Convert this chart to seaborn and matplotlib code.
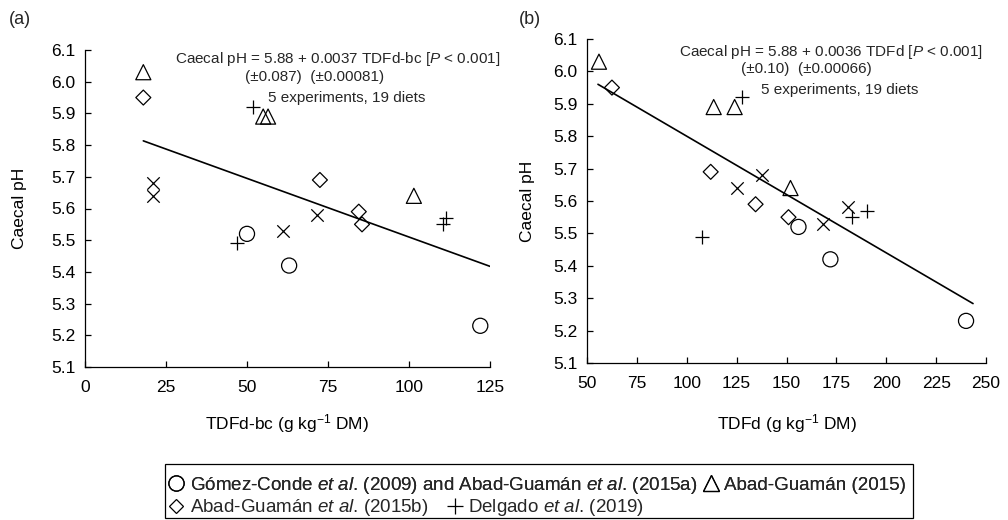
import numpy as np
import pandas as pd
import matplotlib
matplotlib.use("Agg")
import matplotlib.pyplot as plt
from matplotlib.lines import Line2D
from matplotlib.patches import Rectangle
import seaborn as sns

# ---------------- data ----------------
groups = ["circle", "triangle", "diamond", "plus", "cross"]

# panel (a): TDFd-bc
a_circle_x = [50, 63, 122]
a_circle_y = [5.52, 5.42, 5.23]
a_triangle_x = [18, 55, 56.5, 101.5]
a_triangle_y = [6.03, 5.89, 5.89, 5.64]
a_diamond_x = [18, 72.5, 84.5, 85.5]
a_diamond_y = [5.95, 5.69, 5.59, 5.55]
a_plus_x = [52, 47, 110.5, 111.5]
a_plus_y = [5.92, 5.49, 5.55, 5.57]
a_cross_x = [21, 21, 61, 71.5]
a_cross_y = [5.68, 5.64, 5.53, 5.58]
a_line_intercept = 5.88
a_line_slope = -0.0037
a_line_x = [18, 125]

# panel (b): TDFd
b_circle_x = [156, 172, 240]
b_circle_y = [5.52, 5.42, 5.23]
b_triangle_x = [56, 113.5, 124, 152]
b_triangle_y = [6.03, 5.89, 5.89, 5.64]
b_diamond_x = [62.5, 112, 134.5, 151]
b_diamond_y = [5.95, 5.69, 5.59, 5.55]
b_plus_x = [127.5, 107.5, 183, 190.5]
b_plus_y = [5.92, 5.49, 5.55, 5.57]
b_cross_x = [125, 137.5, 168.5, 181]
b_cross_y = [5.64, 5.68, 5.53, 5.58]
b_line_intercept = 6.16
b_line_slope = -0.0036
b_line_x = [55.5, 243.5]

y_ticks = [5.1, 5.2, 5.3, 5.4, 5.5, 5.6, 5.7, 5.8, 5.9, 6.0, 6.1]
a_x_ticks = [0, 25, 50, 75, 100, 125]
b_x_ticks = [50, 75, 100, 125, 150, 175, 200, 225, 250]

a_eq = ["Caecal pH = 5.88 + 0.0037 TDFd-bc [$\\mathit{P}$ < 0.001]",
        "(\u00b10.087)  (\u00b10.00081)",
        "5 experiments, 19 diets"]
b_eq = ["Caecal pH = 5.88 + 0.0036 TDFd [$\\mathit{P}$ < 0.001]",
        "(\u00b10.10)  (\u00b10.00066)",
        "5 experiments, 19 diets"]

legend_row1 = ["G\u00f3mez-Conde $\\mathit{et\\ al}$. (2009) and Abad-Guam\u00e1n $\\mathit{et\\ al}$. (2015a)",
               "Abad-Guam\u00e1n (2015)"]
legend_row2 = ["Abad-Guam\u00e1n $\\mathit{et\\ al}$. (2015b)",
               "Delgado $\\mathit{et\\ al}$. (2019)"]

# ---------------- style ----------------
sns.set_theme(style="ticks")
plt.rcParams["font.family"] = ["Liberation Sans", "DejaVu Sans"]
plt.rcParams["mathtext.fontset"] = "custom"
plt.rcParams["mathtext.rm"] = "Liberation Sans"
plt.rcParams["mathtext.it"] = "Liberation Sans:italic"
plt.rcParams["mathtext.bf"] = "Liberation Sans:bold"

marker_style = {
    "circle": dict(marker="o", s=118, facecolor="none", edgecolor="black", linewidth=0.9),
    "triangle": dict(marker="^", s=118, facecolor="none", edgecolor="black", linewidth=0.9),
    "diamond": dict(marker="D", s=58, facecolor="none", edgecolor="black", linewidth=0.9),
    "plus": dict(marker="+", s=110, color="black", linewidth=0.9),
    "cross": dict(marker="x", s=80, color="black", linewidth=0.9),
}

W, H = 1008, 520
fig = plt.figure(figsize=(W / 100, H / 100), dpi=100)

def px_axes(l, r, t, b):
    return fig.add_axes([l / W, 1 - b / H, (r - l) / W, (b - t) / H])

ax_a = px_axes(85, 490, 50, 367)
ax_b = px_axes(587, 986, 39, 363)

def draw_panel(ax, data, line_x, icpt, slope, xticks, xlabel, xlim):
    for g in groups:
        xs, ys = data[g]
        df = pd.DataFrame({"x": xs, "y": ys})
        sns.scatterplot(data=df, x="x", y="y", ax=ax, legend=False, zorder=3,
                        **marker_style[g])
    lx = np.array(line_x, dtype=float)
    ldf = pd.DataFrame({"x": lx, "y": icpt + slope * lx})
    sns.lineplot(data=ldf, x="x", y="y", ax=ax, color="black", linewidth=1.2,
                 zorder=2)
    ax.set_xlim(*xlim)
    ax.set_ylim(5.1, 6.1)
    ax.set_xticks(xticks)
    ax.set_yticks(y_ticks)
    ax.set_yticklabels([f"{v:.1f}" for v in y_ticks])
    ax.set_xticklabels([str(v) for v in xticks])
    for s in ["top", "right"]:
        ax.spines[s].set_visible(False)
    for s in ["left", "bottom"]:
        ax.spines[s].set_linewidth(0.9)
        ax.spines[s].set_color("black")
    ax.tick_params(axis="both", direction="in", length=4, width=0.9,
                   labelsize=12.5, colors="black")
    ax.tick_params(axis="x", pad=9)
    ax.tick_params(axis="y", pad=7)
    ax.set_xlabel(xlabel, fontsize=12.5, color="black")
    ax.set_ylabel("Caecal pH", fontsize=12.5, color="black")

draw_panel(ax_a,
           {"circle": (a_circle_x, a_circle_y), "triangle": (a_triangle_x, a_triangle_y),
            "diamond": (a_diamond_x, a_diamond_y), "plus": (a_plus_x, a_plus_y),
            "cross": (a_cross_x, a_cross_y)},
           a_line_x, a_line_intercept, a_line_slope, a_x_ticks,
           "TDFd-bc (g kg$^{-1}$ DM)", (0, 125))
draw_panel(ax_b,
           {"circle": (b_circle_x, b_circle_y), "triangle": (b_triangle_x, b_triangle_y),
            "diamond": (b_diamond_x, b_diamond_y), "plus": (b_plus_x, b_plus_y),
            "cross": (b_cross_x, b_cross_y)},
           b_line_x, b_line_intercept, b_line_slope, b_x_ticks,
           "TDFd (g kg$^{-1}$ DM)", (50, 250))

ax_a.yaxis.set_label_coords((27 - 85) / 405, 0.5)
ax_b.yaxis.set_label_coords((535 - 587) / 399, 0.5)
ax_a.xaxis.set_label_coords(0.5, (367 - 412) / 317)
ax_b.xaxis.set_label_coords(0.5, (363 - 412) / 324)

def ftext(x, y, s, **kw):
    fig.text(x / W, 1 - y / H, s, **kw)

ftext(20, 20, "(a)", fontsize=13, ha="center", va="center")
ftext(530, 20, "(b)", fontsize=13, ha="center", va="center")

for (cx, cy), s in zip([(338, 59), (315, 77), (347, 98)], a_eq):
    ftext(cx, cy, s, fontsize=11, ha="center", va="center")
for (cx, cy), s in zip([(831, 52), (806, 69), (840, 90)], b_eq):
    ftext(cx, cy, s, fontsize=11, ha="center", va="center")

# ---------------- legend ----------------
def mk(m, ms):
    filled = m in ("o", "^", "D")
    if filled:
        return Line2D([], [], marker=m, ls="none", mfc="none", mec="black",
                      mew=0.9, ms=ms)
    return Line2D([], [], marker=m, ls="none", color="black", mew=0.9, ms=ms)

leg_fs = 13.5
l1 = fig.legend(handles=[mk("o", 11), mk("^", 11)], labels=legend_row1, ncol=2,
                loc="center left", bbox_to_anchor=(168 / W, 1 - 485 / H),
                frameon=False, fontsize=leg_fs, handlelength=0.9,
                handletextpad=0.25, columnspacing=0.3, borderpad=0,
                borderaxespad=0)
l2 = fig.legend(handles=[mk("D", 7.5), mk("+", 11)], labels=legend_row2, ncol=2,
                loc="center left", bbox_to_anchor=(168 / W, 1 - 508 / H),
                frameon=False, fontsize=leg_fs, handlelength=0.9,
                handletextpad=0.25, columnspacing=1.0, borderpad=0,
                borderaxespad=0)
fig.add_artist(l1)

fig.patches.append(Rectangle((165 / W, 1 - 518 / H), 748 / W, 54 / H,
                             transform=fig.transFigure, fill=False,
                             edgecolor="black", linewidth=0.9))

fig.savefig("out.png", dpi=100)
